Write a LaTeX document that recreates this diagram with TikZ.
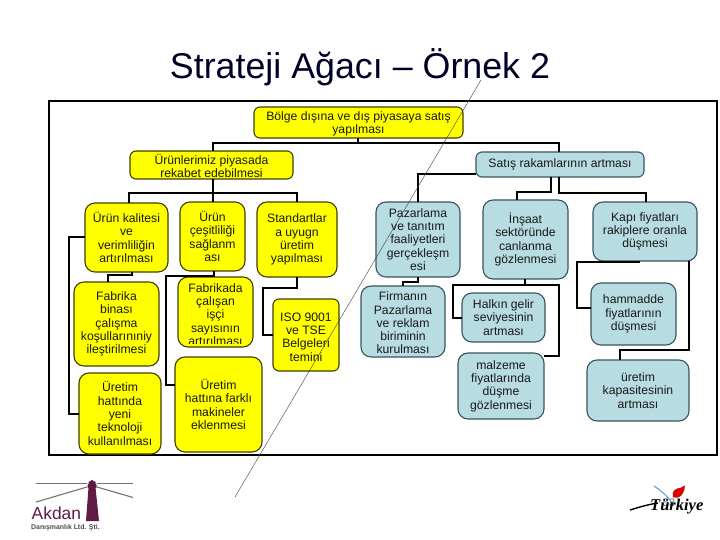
\documentclass[tikz,border=0pt]{standalone}
\usepackage{fontspec}
\setmainfont{Liberation Sans}
\newfontfamily\trfont{Liberation Serif}
\definecolor{ybox}{HTML}{FFFF00}
\definecolor{ybord}{HTML}{3F3F00}
\definecolor{tbox}{HTML}{B7DCE2}
\definecolor{tbord}{HTML}{38565C}
\definecolor{akd}{HTML}{5F1A45}
\tikzset{
  basebox/.style={rectangle,rounded corners=6pt,line width=1.1pt,inner sep=0pt,outer sep=0pt,align=center,font=\fontsize{12.2}{13.3}\selectfont,text=black!90},
  yb/.style={basebox,draw=ybord,fill=ybox},
  tb/.style={basebox,draw=tbord,fill=tbox},
  conn/.style={line width=1.6pt,draw=black},
  frame/.style={rectangle,draw=black,line width=1.6pt,fill=white,inner sep=0pt,outer sep=0pt},
  clipped/.style={inner sep=0pt,align=center,font=\fontsize{12.2}{13.3}\selectfont,text=black!90},
  diag/.style={line width=0.4pt,draw=black!75}
}
\newcommand{\bx}[7][]{\node[#2,#1,minimum width={(#5-#3)*1pt},minimum height={(#6-#4)*1pt}] (#7) at ({(#3+#5)/2},{(#4+#6)/2})}
\begin{document}
\begin{tikzpicture}[x=1pt,y=-1pt]
\useasboundingbox (0,0) rectangle (720,540);
\fill[white] (0,0) rectangle (720,540);
\node[inner sep=0pt,font=\fontsize{35.8}{38}\selectfont,text=black!85!blue] (title) at (360,67) {Strateji Ağacı – Örnek 2};
\node[frame,minimum width=668pt,minimum height=354pt] (fr) at (383,278) {};
% yellow
\bx{yb}{254}{107}{463}{138}{top} {};
\node[clipped] (topt) at (358.5,124) {Bölge dışına ve dış piyasaya satış\\yapılması};
\bx{yb}{130}{151}{293}{179}{rek} {};
\node[clipped] (rekt) at (211.5,166) {Ürünlerimiz piyasada\\rekabet edebilmesi};
\bx[rounded corners=10pt]{yb}{85}{203}{168}{272}{kal} {Ürün kalitesi\\ve\\verimliliğin\\artırılması};
\bx[rounded corners=10pt]{yb}{180}{202}{245}{271}{ces} {Ürün\\çeşitliliği\\sağlanm\\ası};
\bx[rounded corners=10pt]{yb}{257}{202}{337}{277}{sta} {Standartlar\\a uyugn\\üretim\\yapılması};
\bx[rounded corners=10pt]{yb}{74}{282}{159}{366}{fab} {Fabrika\\binası\\çalışma\\koşullarınıniy\\ileştirilmesi};
\bx[rounded corners=10pt]{yb}{178}{277}{253}{347}{cal} {};
\begin{scope}
\clip (178,277) rectangle (253,343.5);
\node[clipped] (calt) at (215.5,314.5) {Fabrikada\\çalışan\\işçi\\sayısının\\artırılması};
\end{scope}
\bx{yb}{273}{299}{339}{371}{iso} {};
\node[clipped] (isot) at (306,337) {ISO 9001\\ve TSE\\Belgeleri\\temini};
\bx[rounded corners=10pt]{yb}{79}{373}{161}{454}{hat} {Üretim\\hattında\\yeni\\teknoloji\\kullanılması};
\bx[rounded corners=10pt]{yb}{175}{357}{262}{452}{mak} {Üretim\\hattına farklı\\makineler\\eklenmesi};
% teal
\bx{tb}{476}{152}{644}{177}{sat} {Satış rakamlarının artması};
\bx[rounded corners=10pt]{tb}{376}{202}{460}{277}{paz} {Pazarlama\\ve tanıtım\\faaliyetleri\\gerçekleşm\\esi};
\bx[rounded corners=10pt]{tb}{483}{200}{568}{279}{ins} {İnşaat\\sektöründe\\canlanma\\gözlenmesi};
\bx[rounded corners=10pt]{tb}{593}{202}{697}{261}{kap} {Kapı fiyatları\\rakiplere oranla\\düşmesi};
\bx[rounded corners=10pt]{tb}{361}{286}{445}{357}{fir} {};
\begin{scope}
\clip (361,286) rectangle (445,353);
\node[clipped] (firt) at (403,323) {Firmanın\\Pazarlama\\ve reklam\\biriminin\\kurulması};
\end{scope}
\bx[rounded corners=10pt]{tb}{462}{293}{545}{342}{hal} {Halkın gelir\\seviyesinin\\artması};
\bx[rounded corners=10pt]{tb}{458}{353}{544}{419}{mal} {malzeme\\fiyatlarında\\düşme\\gözlenmesi};
\bx[rounded corners=10pt]{tb}{591}{283}{676}{345}{ham} {hammadde\\fiyatlarının\\düşmesi};
\bx[rounded corners=10pt]{tb}{587}{360}{689}{421}{kpt} {üretim\\kapasitesinin\\artması};
% connectors
\draw[conn] (top.south -| 358,0) -- (358,143) -| (rek.north -| 213,0);
\draw[conn] (top.south -| 358,0) -- (358,143) -| (sat.north -| 559,0);
\draw[conn] (rek.south -| 213,0) -- (213,193) -| (kal.north -| 129,0);
\draw[conn] (rek.south -| 213,0) -- (ces.north -| 213,0);
\draw[conn] (rek.south -| 213,0) -- (213,193) -| (sta.north -| 297,0);
\draw[conn] (kal.west |- 0,237) -- (69,237) |- (hat.west |- 0,414);
\draw[conn] (kal.south -| 132,0) -- (132,275) -| (fab.north -| 108,0);
\draw[conn] (ces.south -| 214,0) -- (cal.north -| 214,0);
\draw[conn] (ces.south -| 214,0) -- (214,276) -- (166,276) |- (mak.west |- 0,385);
\draw[conn] (sta.south -| 297,0) -- (297,288) -- (263,288) |- (iso.west |- 0,335);
\draw[conn] (sat.west |- 0,174) -| (paz.north -| 418,0);
\draw[conn] (sat.south -| 551,0) -- (551,192) -| (ins.north -| 517,0);
\draw[conn] (sat.south -| 559,0) -- (559,193) -| (kap.north -| 646,0);
\draw[conn] (paz.south -| 418,0) -- (418,282) -| (fir.north);
\draw[conn] (ins.south -| 525,0) -- (525,285) -- (453,285) |- (hal.west |- 0,318);
\draw[conn] (ins.south -| 525,0) -- (525,285) -- (559,285) |- (mal.east |- 0,356);
\draw[conn] (kap.south -| 639,0) -- (639,262) -- (577,262) |- (ham.west |- 0,308);
\draw[conn] (kap.south -| 689,0) -- (689,350) -| (kpt.north -| 620,0);
% diagonal
\coordinate (d1) at (481,80);
\coordinate (d2) at (235,497);
\draw[diag] (d1) -- (d2);
% Akdan logo
\draw[line width=1.1pt,draw=black!55] (36,483.5) -- (87,483.5);
\draw[line width=1.1pt,draw=black!55] (97,483.5) -- (133,483.5);
\draw[line width=1.1pt,draw=black!55] (36,502) -- (87,487);
\draw[line width=1.1pt,draw=black!55] (97,487) -- (133,497.5);
\fill[akd] (88.5,484) -- (88.5,482) -- (92,480) -- (95.5,482) -- (95.5,484) -- (96.5,484.5) -- (96.5,487.5) -- (95.5,487.5) -- (99,521) -- (86,521) -- (88.5,487.5) -- (87.5,487.5) -- (87.5,484.5) -- cycle;
\node[inner sep=0pt,anchor=base west,font=\fontsize{17.4}{20}\selectfont,text=akd] (akdan) at (31.5,519.5) {Akdan};
\node[inner sep=0pt,anchor=base west,font=\bfseries\fontsize{6.9}{8}\selectfont,text=black!70] (akdsub) at (31,529) {Danışmanlık Ltd. Şti.};
% page number
\node[inner sep=0pt,font=\fontsize{11}{12}\selectfont,text=black!55] (pg) at (669,503) {53};
% Turkiye logo
\draw[line width=1.2pt,draw=cyan!60!blue!60] (654,486) .. controls (663,492) and (668,497) .. (672,503);
\fill[red!85!black] (673,497) .. controls (671,491) and (676,488) .. (680,488) .. controls (682,487) and (684,486) .. (685,485.5) .. controls (684,489) and (685,490) .. (683,493) .. controls (681,497) and (677,499) .. (673,497) -- cycle;
\draw[line width=1.4pt,draw=black] (630,510) .. controls (637,508) and (645,505) .. (658,503);
\node[inner sep=0pt,anchor=base west,font=\trfont\bfseries\itshape\fontsize{16.5}{18}\selectfont,text=black] (tr) at (650,510) {Türkiye};
\end{tikzpicture}
\end{document}
